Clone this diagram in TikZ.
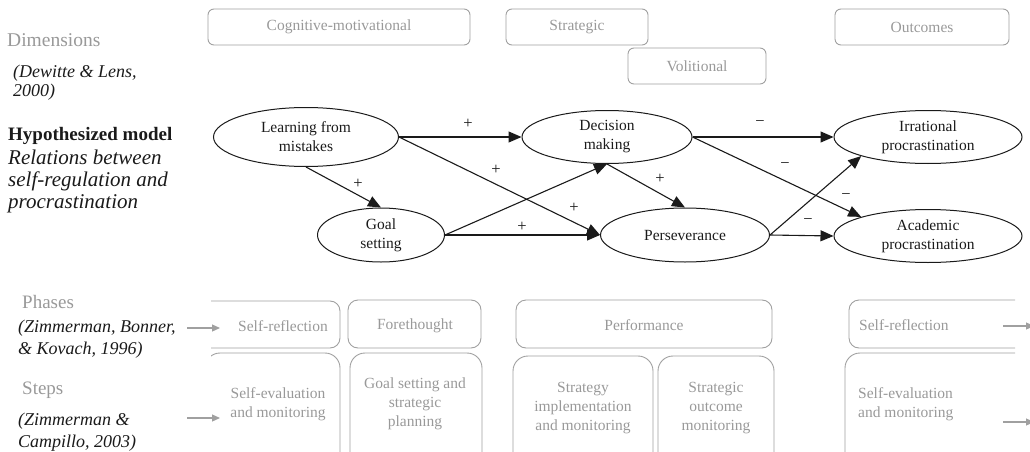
\documentclass[tikz,border=0pt]{standalone}
\usepackage{fontspec}
\setmainfont{Liberation Serif}
\usetikzlibrary{shapes.geometric,arrows.meta}
\definecolor{boxgray}{HTML}{A0A0A0}
\definecolor{txtgray}{HTML}{999999}
\definecolor{ink}{HTML}{1A1A1A}
\begin{document}
\begin{tikzpicture}[x=1pt,y=-1pt,
  dimbox/.style={draw=boxgray, rounded corners=6pt, line width=0.9pt, text=txtgray,
    font=\fontsize{15.5}{19}\selectfont, inner sep=0pt},
  ell/.style={ellipse, draw=ink, line width=1pt, inner sep=0pt, align=center, text=ink,
    font=\fontsize{15.5}{19}\selectfont},
  arr/.style={-{Triangle[length=13pt,width=11pt]}, line width=1.1pt, draw=ink},
  sign/.style={font=\fontsize{16.5}{16.5}\selectfont, inner sep=0pt, text=ink},
  phbox/.style={draw=boxgray, line width=0.9pt, rounded corners=10pt, inner sep=0pt},
  stepbox/.style={draw=boxgray, line width=0.9pt, rounded corners=15pt, inner sep=0pt},
  btxt/.style={text=txtgray, font=\fontsize{15.5}{19}\selectfont, align=center, inner sep=0pt},
  lefttxt/.style={anchor=west, align=left, inner sep=0pt},
  garr/.style={-{Triangle[length=8pt,width=7pt]}, draw=boxgray, line width=1.2pt}
]
\useasboundingbox (0,0) rectangle (1030,452);

% ---- left captions
\node[lefttxt, text=txtgray, font=\fontsize{19.5}{22}\selectfont] (dim) at (7,40) {Dimensions};
\node[lefttxt, text=ink, font=\fontsize{18}{19}\itshape] (dew) at (13,83) {(Dewitte \& Lens,\\2000)};
\node[lefttxt, text=ink, font=\fontsize{19}{22}\bfseries] (hyp) at (8,136) {Hypothesized model};
\node[lefttxt, text=ink, font=\fontsize{21}{22}\itshape] (rel) at (8,181) {Relations between\\self-regulation and\\procrastination};
\node[lefttxt, text=txtgray, font=\fontsize{19}{22}\selectfont] (pha) at (22,302) {Phases};
\node[lefttxt, text=ink, font=\fontsize{18}{22}\itshape] (zbk) at (18,339) {(Zimmerman, Bonner,\\\& Kovach, 1996)};
\node[lefttxt, text=txtgray, font=\fontsize{19}{22}\selectfont] (ste) at (22,390) {Steps};
\node[lefttxt, text=ink, font=\fontsize{18}{22}\itshape] (zc) at (18,432) {(Zimmerman \&\\Campillo, 2003)};

% ---- dimension boxes
\node[dimbox, minimum width=262pt, minimum height=36pt] (cog) at (339,27) {Cognitive-motivational};
\node[dimbox, minimum width=142pt, minimum height=36pt] (str) at (577,27) {Strategic};
\node[dimbox, minimum width=138pt, minimum height=36pt] (vol) at (697,66) {Volitional};
\node[dimbox, minimum width=174pt, minimum height=36pt] (out) at (922,27) {Outcomes};

% ---- model
\node[ell, minimum width=185pt, minimum height=59pt] (lfm) at (306,137) {Learning from\\mistakes};
\node[ell, minimum width=127pt, minimum height=54pt] (goal) at (381,235) {Goal\\setting};
\node[ell, minimum width=170pt, minimum height=53pt] (dm) at (607,137) {Decision\\making};
\node[ell, minimum width=169pt, minimum height=54pt] (per) at (685,235) {Perseverance};
\node[ell, minimum width=188pt, minimum height=53pt] (irr) at (928,137) {Irrational\\procrastination};
\node[ell, minimum width=188pt, minimum height=53pt] (aca) at (928,236) {Academic\\procrastination};

\draw[arr] (lfm.east) -- (dm.west);
\draw[arr] (lfm.east) -- (per.west);
\draw[arr] (lfm.south) -- (goal.north);
\draw[arr] (goal.east) -- (dm.south);
\draw[arr] (goal.east) -- (per.west);
\draw[arr] (dm.south) -- (per.north);
\draw[arr] (dm.east) -- (irr.west);
\draw[arr] (dm.east) -- (aca.north west);
\draw[arr] (per.east) -- (irr.south west);
\draw[arr] (per.east) -- (aca.west);

\node[sign] (s1) at (468,124) {+};
\node[sign] (s2) at (496,170) {+};
\node[sign] (s3) at (358,184) {+};
\node[sign] (s4) at (574,208) {+};
\node[sign] (s5) at (522,227) {+};
\node[sign] (s6) at (660,179) {+};
\node[sign] (m1) at (760,124) {−};
\node[sign] (m2) at (785,166) {−};
\node[sign] (m3) at (846,197) {−};
\node[sign] (m4) at (808,222) {−};

% ---- phases and steps (clipped)
\begin{scope}
\clip (211,0) rectangle (1015,452);
\node[phbox, minimum width=200pt, minimum height=47pt] (sr1) at (240,324.5) {};
\node[stepbox, minimum width=135pt, minimum height=120pt] (se1) at (272.5,413) {};
\node[phbox, minimum width=133pt, minimum height=48pt] (fore) at (414.5,324) {};
\node[stepbox, minimum width=132pt, minimum height=120pt] (gsp) at (416,413) {};
\node[phbox, minimum width=256pt, minimum height=48pt] (perf) at (644,324) {};
\node[stepbox, minimum width=140pt, minimum height=116pt] (sim) at (583,414) {};
\node[stepbox, minimum width=116pt, minimum height=116pt] (som) at (716,414) {};
\node[phbox, minimum width=210pt, minimum height=48pt] (sr2) at (954,324) {};
\node[stepbox, minimum width=215pt, minimum height=120pt] (se2) at (952.5,413) {};
\end{scope}

\node[btxt] (t-sr1) at (283,326) {Self-reflection};
\node[btxt] (t-se1) at (278,404) {Self-evaluation\\and monitoring};
\node[btxt] (t-fore) at (415,326) {Forethought};
\node[btxt] (t-gsp) at (415,404) {Goal setting and\\strategic\\planning};
\node[btxt] (t-perf) at (644,325) {Performance};
\node[btxt] (t-sim) at (583,408) {Strategy\\implementation\\and monitoring};
\node[btxt] (t-som) at (716,408) {Strategic\\outcome\\monitoring};
\node[btxt, anchor=west, align=left] (t-sr2) at (859,325) {Self-reflection};
\node[btxt, anchor=west, align=left] (t-se2) at (858,404) {Self-evaluation\\and monitoring};

\coordinate (a1s) at (187,328);
\coordinate (a1e) at (220,328);
\coordinate (a2s) at (187,418);
\coordinate (a2e) at (220,418);
\coordinate (a3s) at (1003,326);
\coordinate (a3e) at (1034,326);
\coordinate (a4s) at (1003,422);
\coordinate (a4e) at (1034,422);
\draw[garr] (a1s) -- (a1e);
\draw[garr] (a2s) -- (a2e);
\draw[garr] (a3s) -- (a3e);
\draw[garr] (a4s) -- (a4e);
\end{tikzpicture}
\end{document}
